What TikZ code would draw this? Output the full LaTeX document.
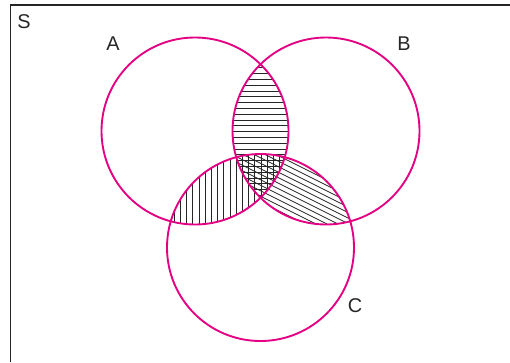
\documentclass[tikz,border=0pt]{standalone}
\usepackage{fontspec}
\setmainfont{Liberation Sans}
\usepackage{tikz}
\usetikzlibrary{positioning,calc}
\usepackage{xcolor}
\definecolor{vennpink}{RGB}{228,0,130}

\begin{document}
\begin{tikzpicture}[x=0.03cm,y=-0.03cm, every node/.style={font=\fontsize{17}{20}\selectfont}]
\tikzstyle{ring}=[draw=vennpink,line width=1.6pt]
\tikzstyle{hatch}=[draw=black!85,line width=0.65pt]
\tikzstyle{lbl}=[inner sep=0pt,text=black!85]
\useasboundingbox (0,0) rectangle (510,362);
\coordinate (ca) at (195,131);
\coordinate (cb) at (326,131);
\coordinate (cc) at (260.5,247.5);
\def\rr{93.5}
% A and B: horizontal
\begin{scope}
\clip (ca) circle (\rr);
\clip (cb) circle (\rr);
\foreach \y in {62,67.8,...,225} \draw[hatch] (220,\y) -- (300,\y);
\end{scope}
% A and C: vertical
\begin{scope}
\clip (ca) circle (\rr);
\clip (cc) circle (\rr);
\foreach \x in {168,174.2,...,290} \draw[hatch] (\x,145) -- (\x,230);
\end{scope}
% B and C: slanted
\begin{scope}
\clip (cb) circle (\rr);
\clip (cc) circle (\rr);
\foreach \y in {60,65.5,...,240} \draw[hatch] (230,\y) -- ++(130,65);
\end{scope}
% sets
\draw[ring] (ca) circle (\rr);
\draw[ring] (cb) circle (\rr);
\draw[ring] (cc) circle (\rr);
% universe
\coordinate (tl) at (10.7,5);
\draw[line width=0.9pt,black!85] (10.7,362) -- (tl) -- (510,5);
\node[lbl] (s) at (24,22) {S};
\node[lbl] (a) at (113,44) {A};
\node[lbl] (b) at (404,44) {B};
\node[lbl] (c) at (355,306) {C};
\end{tikzpicture}
\end{document}
